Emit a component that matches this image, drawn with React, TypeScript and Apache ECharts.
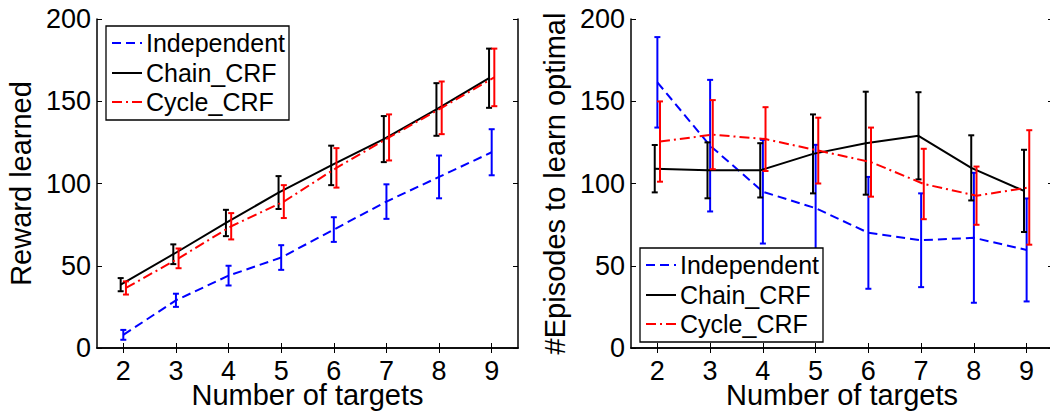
import React, { useEffect, useRef } from "react";
import * as echarts from "echarts";

const targets = [2, 3, 4, 5, 6, 7, 8, 9];

const rewardIndependent = [8, 29, 44, 55, 72, 89, 104, 119];
const rewardIndependentErr = [3, 4, 6, 7.5, 7.5, 10.5, 13, 14];
const rewardChain = [38.5, 57, 76, 94.5, 111, 127, 145, 164];
const rewardChainErr = [4, 6, 8, 10, 12, 14, 16, 18];
const rewardCycle = [36.5, 54.5, 74, 89, 109.5, 128, 146, 164.5];
const rewardCycleErr = [4, 6, 8, 10, 12, 14, 16, 17.5];

const episodesIndependent = [161.5, 123, 95, 85, 70, 65.5, 67, 59.6];
const episodesIndependentErr = [27.5, 40, 31.5, 38.5, 34, 28.5, 39.5, 31.3];
const episodesChain = [109, 108, 108, 118, 124.5, 129, 109.5, 95.5];
const episodesChainErr = [14.4, 17, 16.5, 24, 31.3, 26.5, 19.8, 25];
const episodesCycle = [125.5, 129.7, 127, 120, 113, 99.7, 92.6, 97.6];
const episodesCycleErr = [24.4, 21, 19.4, 20, 21, 21.4, 17.7, 34.8];

const seriesNames = ["Independent", "Chain_CRF", "Cycle_CRF"];

const FONT = "Liberation Sans, Arial, Helvetica, sans-serif";
const BLUE = "#0000ff";
const BLACK = "#000000";
const RED = "#ff0000";

const styles = [
  { color: BLUE, dash: [9, 5] as any, offset: 0 },
  { color: BLACK, dash: "solid" as any, offset: -0.05 },
  { color: RED, dash: [10, 4, 2, 4] as any, offset: 0.05 },
];

function buildSeries(gridIdx: number, values: number[][], errs: number[][]) {
  const out: any[] = [];
  values.forEach((vals, si) => {
    const st = styles[si];
    out.push({
      type: "line",
      name: seriesNames[si],
      xAxisIndex: gridIdx * 2,
      yAxisIndex: gridIdx * 2,
      showSymbol: false,
      symbol: "none",
      data: vals.map((v, i) => [targets[i] + st.offset, v]),
      lineStyle: { color: st.color, width: 2, type: st.dash },
      z: 2 + si,
    });
    out.push({
      type: "custom",
      xAxisIndex: gridIdx * 2,
      yAxisIndex: gridIdx * 2,
      data: vals.map((v, i) => [targets[i] + st.offset, v - errs[si][i], v + errs[si][i]]),
      encode: { x: 0, y: [1, 2] },
      z: 2 + si,
      renderItem: (params: any, api: any) => {
        const x = api.value(0);
        const lo = api.coord([x, api.value(1)]);
        const hi = api.coord([x, api.value(2)]);
        const w = 3;
        const s = { stroke: st.color, lineWidth: 2 };
        return {
          type: "group",
          children: [
            { type: "line", shape: { x1: lo[0], y1: lo[1], x2: hi[0], y2: hi[1] }, style: s },
            { type: "line", shape: { x1: lo[0] - w, y1: lo[1], x2: lo[0] + w, y2: lo[1] }, style: s },
            { type: "line", shape: { x1: hi[0] - w, y1: hi[1], x2: hi[0] + w, y2: hi[1] }, style: s },
          ],
        };
      },
    });
  });
  return out;
}

function legendGraphic(x: number, y: number) {
  const rowY = [17, 47, 76];
  const Z = 100;
  const children: any[] = [
    {
      type: "rect",
      z: Z,
      shape: { x: 0, y: 0, width: 183, height: 94 },
      style: { fill: "#ffffff", stroke: "#000000", lineWidth: 1.3 },
    },
  ];
  seriesNames.forEach((n, i) => {
    const st = styles[i];
    children.push({
      type: "line",
      z: Z + 1,
      shape: { x1: 6, y1: rowY[i], x2: 36, y2: rowY[i] },
      style: { stroke: st.color, lineWidth: 2, lineDash: st.dash === "solid" ? null : st.dash },
    });
    children.push({
      type: "text",
      z: Z + 1,
      x: 40,
      y: rowY[i],
      style: { text: n, fontSize: 25, fontFamily: FONT, fill: "#000", verticalAlign: "middle", align: "left" },
    });
  });
  return { type: "group", x, y, z: Z, children };
}

function axesFor(gridIdx: number, xName: string, yName: string) {
  const axLine = { show: true, lineStyle: { color: "#000", width: 1.5 } };
  const xs = [
    {
      type: "value",
      gridIndex: gridIdx,
      min: 1.5,
      max: 9.5,
      position: "bottom",
      axisLine: axLine,
      axisTick: { show: true, inside: true, length: 5, customValues: targets, lineStyle: { color: "#000", width: 1 } },
      axisLabel: { show: true, customValues: targets, fontSize: 27, fontFamily: FONT, color: "#000", margin: 9 },
      splitLine: { show: false },
      name: xName,
      nameLocation: "middle",
      nameGap: 32,
      nameMoveOverlap: false,
      nameTextStyle: { fontSize: 29, fontFamily: FONT, color: "#000" },
    },
    {
      type: "value",
      gridIndex: gridIdx,
      min: 1.5,
      max: 9.5,
      position: "top",
      axisLine: axLine,
      axisTick: { show: true, inside: true, length: 5, customValues: targets, lineStyle: { color: "#000", width: 1 } },
      axisLabel: { show: false },
      splitLine: { show: false },
    },
  ];
  const ys = [
    {
      type: "value",
      gridIndex: gridIdx,
      min: 0,
      max: 200,
      interval: 50,
      position: "left",
      axisLine: axLine,
      axisTick: { show: true, inside: true, length: 5, lineStyle: { color: "#000", width: 1 } },
      axisLabel: { show: true, fontSize: 27, fontFamily: FONT, color: "#000", margin: 6 },
      splitLine: { show: false },
      name: yName,
      nameLocation: "middle",
      nameGap: 62,
      nameMoveOverlap: false,
      nameTextStyle: { fontSize: 29, fontFamily: FONT, color: "#000" },
    },
    {
      type: "value",
      gridIndex: gridIdx,
      min: 0,
      max: 200,
      interval: 50,
      position: "right",
      axisLine: axLine,
      axisTick: { show: true, inside: true, length: 5, lineStyle: { color: "#000", width: 1 } },
      axisLabel: { show: false },
      splitLine: { show: false },
    },
  ];
  return { xs, ys };
}

export default function App() {
  const ref = useRef<HTMLDivElement>(null);
  useEffect(() => {
    if (!ref.current) return;
    const chart = echarts.init(ref.current, null, { renderer: "svg" });
    const a0 = axesFor(0, "Number of targets", "Reward learned");
    const a1 = axesFor(1, "Number of targets", "#Episodes to learn optimal");
    chart.setOption({
      animation: false,
      backgroundColor: "#ffffff",
      textStyle: { fontFamily: FONT },
      grid: [
        { left: 97, top: 19, width: 421, height: 329, outerBoundsMode: "none", containLabel: false },
        { left: 631, top: 19, width: 422, height: 329, outerBoundsMode: "none", containLabel: false },
      ],
      xAxis: [...a0.xs, ...a1.xs],
      yAxis: [...a0.ys, ...a1.ys],
      series: [
        ...buildSeries(
          0,
          [rewardIndependent, rewardChain, rewardCycle],
          [rewardIndependentErr, rewardChainErr, rewardCycleErr]
        ),
        ...buildSeries(
          1,
          [episodesIndependent, episodesChain, episodesCycle],
          [episodesIndependentErr, episodesChainErr, episodesCycleErr]
        ),
      ],
      graphic: [legendGraphic(106, 26), legendGraphic(640, 248)],
    });
    return () => chart.dispose();
  }, []);
  return (
    <div
      ref={ref}
      style={{ position: "fixed", left: 0, top: 0, width: 1050, height: 412, background: "#fff" }}
    />
  );
}
